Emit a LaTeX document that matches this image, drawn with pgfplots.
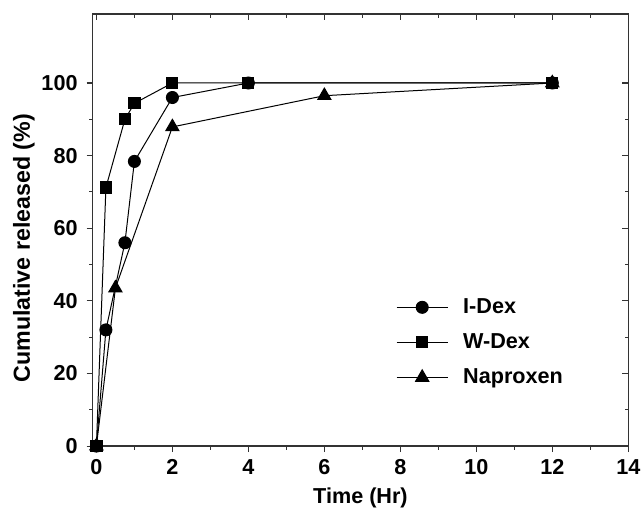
\documentclass[border=0pt]{standalone}
\usepackage{fontspec}
\setmainfont{Liberation Sans}
\usepackage{pgfplots}
\pgfplotsset{compat=1.18}
\usetikzlibrary{calc}

\newcommand{\relfont}{\fontsize{10.8}{12}\selectfont\bfseries}
\pgfplotsset{
  frame/.style={
    width=267.8pt, height=216pt, scale only axis,
    xmin=-0.1, xmax=14, ymin=0, ymax=119,
    xtick={0,2,...,14}, ytick={0,20,...,100},
    minor x tick num=1, minor y tick num=1,
    major tick length=3pt, minor tick length=1.8pt,
    axis line style={line width=0.65pt, black!80},
    every tick/.style={line width=0.55pt, black!80},
  },
}

\begin{document}
\begin{tikzpicture}
\begin{axis}[
  frame,
  tick align=outside, xtick pos=bottom, ytick pos=left,
  /pgf/number format/assume math mode=true,
  ticklabel style={font=\relfont},
  yticklabel style={xshift=-1pt},
  xlabel={Time (Hr)}, ylabel={Cumulative released (\%)},
  label style={font=\relfont},
  ylabel style={at={(ticklabel cs:0.458,-3.5pt)}, font=\fontsize{11.6}{13}\selectfont\bfseries},
  legend style={at={(0.566,0.352)}, anchor=north west, draw=none, fill=none,
    font=\relfont, row sep=4.6pt, inner sep=0pt,
    nodes={inner xsep=7.5pt}},
  legend cell align=left,
  legend image code/.code={
    \draw[mark repeat=2,mark phase=2] plot coordinates {(0pt,0pt)(12.75pt,0pt)(25.5pt,0pt)};},
  every axis plot/.append style={black, line width=0.5pt},
]
\addplot[mark=*, mark size=3pt, mark options={fill=black}] coordinates {
  (0,0) (0.25,32) (0.75,56) (1,78.4) (2,96) (4,100) (12,100)
};
\addlegendentry{I-Dex}
\addplot[mark=square*, mark size=2.8pt, mark options={fill=black}] coordinates {
  (0,0) (0.25,71.2) (0.75,90) (1,94.4) (2,100) (4,100) (12,100)
};
\addlegendentry{W-Dex}
\addplot[mark=triangle*, mark size=3.8pt, mark options={fill=black}] coordinates {
  (0,0) (0.5,43.5) (2,87.9) (6,96.5) (12,100)
};
\addlegendentry{Naproxen}
\coordinate (sw) at (rel axis cs:0,0);
\coordinate (ne) at (rel axis cs:1,1);
\end{axis}
\begin{axis}[
  frame,
  tick align=inside, xtick pos=top, ytick pos=right,
  xticklabels={}, yticklabels={},
  axis line style={draw=none},
]
\end{axis}
\pgfresetboundingbox
\path[use as bounding box] ($(sw)+(-46.3pt,-32pt)$) rectangle ($(ne)+(6.85pt,7pt)$);
\end{tikzpicture}
\end{document}
